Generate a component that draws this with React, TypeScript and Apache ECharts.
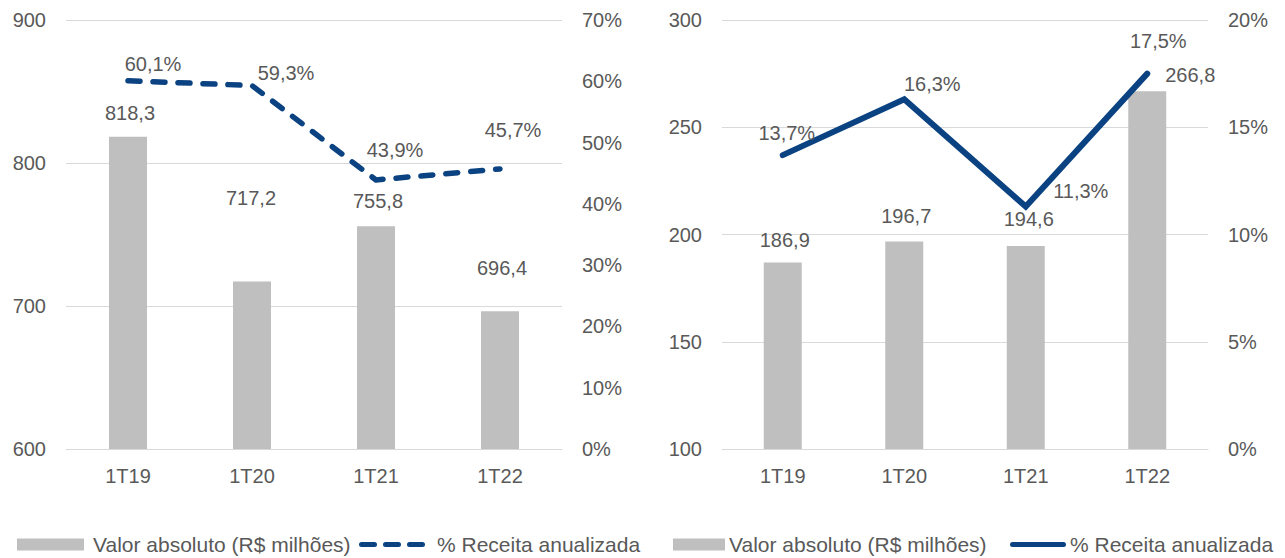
import React, { useEffect, useRef } from "react";
import * as echarts from "echarts";

const categories = ["1T19", "1T20", "1T21", "1T22"];

const leftBarValues = [818.3, 717.2, 755.8, 696.4];
const leftLineValues = [60.1, 59.3, 43.9, 45.7];
const leftValueTicks = [600, 700, 800, 900];
const leftPercentTicks = [0, 10, 20, 30, 40, 50, 60, 70];

const rightBarValues = [186.9, 196.7, 194.6, 266.8];
const rightLineValues = [13.7, 16.3, 11.3, 17.5];
const rightValueTicks = [100, 150, 200, 250, 300];
const rightPercentTicks = [0, 5, 10, 15, 20];

const BAR_NAME = "Valor absoluto (R$ milhões)";
const LINE_NAME = "% Receita anualizada";

// label placement (style, not data)
const leftBarLabelOffsets = [[2, -14], [-1, -73], [2, -15], [2, -33]];
const leftLineLabelOffsets = [[25, -6], [34, -2], [19, -19], [13, -28]];
const rightBarLabelOffsets = [[2, -13], [2, -16], [3, -17], [43, -6]];
const rightLineLabelOffsets = [[4, -12], [28, -5], [55, -5], [11, -22]];

const FONT = "'Liberation Sans', Arial, sans-serif";
const TEXT = "#595959";
const BAR_COLOR = "#BFBFBF";
const LINE_COLOR = "#0B4382";
const GRID_COLOR = "#D9D9D9";

const fmt = (v: number) => v.toFixed(1).replace(".", ",");

const pill = (a: number, b: number, h: number) => {
  const r = h / 2;
  return `M${a + r} 0 L${b - r} 0 A${r} ${r} 0 0 1 ${b - r} ${h} L${a + r} ${h} A${r} ${r} 0 0 1 ${a + r} 0 Z`;
};
const DASHED_ICON = "path://" + pill(0, 18, 5) + " " + pill(24, 42, 5) + " " + pill(48, 66, 5);
const SOLID_ICON = "path://" + pill(0, 56, 5);

interface ChartCfg {
  barValues: number[];
  lineValues: number[];
  valueTicks: number[];
  percentTicks: number[];
  barOffsets: number[][];
  lineOffsets: number[][];
  dashed: boolean;
  grid: { left: number; right: number };
  legendA: { left: number; itemWidth: number; pad: number };
  legendB: { left: number; itemWidth: number; pad: number; icon: string };
}

function buildOption(c: ChartCfg): any {
  const vMin = c.valueTicks[0];
  const vMax = c.valueTicks[c.valueTicks.length - 1];
  const vInt = c.valueTicks[1] - c.valueTicks[0];
  const pMin = c.percentTicks[0];
  const pMax = c.percentTicks[c.percentTicks.length - 1];
  const pInt = c.percentTicks[1] - c.percentTicks[0];
  const labelBase = { color: TEXT, fontSize: 20, fontFamily: FONT };
  return {
    animation: false,
    backgroundColor: "transparent",
    textStyle: { fontFamily: FONT },
    grid: { left: c.grid.left, right: c.grid.right, top: 20, bottom: 109, containLabel: false },
    legend: [
      {
        data: [{ name: BAR_NAME, icon: "rect" }],
        left: c.legendA.left,
        top: 534,
        padding: 0,
        itemWidth: c.legendA.itemWidth,
        itemHeight: 12,
        selectedMode: false,
        textStyle: { color: TEXT, fontSize: 21, fontFamily: FONT, padding: [0, 0, 0, c.legendA.pad] },
      },
      {
        data: [{ name: LINE_NAME, icon: c.legendB.icon }],
        left: c.legendB.left,
        top: 534,
        padding: 0,
        itemWidth: c.legendB.itemWidth,
        itemHeight: 5,
        selectedMode: false,
        textStyle: { color: TEXT, fontSize: 21, fontFamily: FONT, padding: [0, 0, 0, c.legendB.pad] },
      },
    ],
    xAxis: {
      type: "category",
      data: categories,
      axisLine: { show: true, lineStyle: { color: GRID_COLOR, width: 1 } },
      axisTick: { show: false },
      axisLabel: { ...labelBase, margin: 17 },
    },
    yAxis: [
      {
        type: "value",
        min: vMin,
        max: vMax,
        interval: vInt,
        axisLine: { show: false },
        axisTick: { show: false },
        splitLine: { show: true, lineStyle: { color: GRID_COLOR, width: 1 } },
        axisLabel: { ...labelBase, margin: 20 },
      },
      {
        type: "value",
        min: pMin,
        max: pMax,
        interval: pInt,
        axisLine: { show: false },
        axisTick: { show: false },
        splitLine: { show: false },
        axisLabel: { ...labelBase, margin: 20, formatter: "{value}%" },
      },
    ],
    series: [
      {
        name: BAR_NAME,
        type: "bar",
        yAxisIndex: 0,
        barWidth: 38,
        itemStyle: { color: BAR_COLOR },
        data: c.barValues.map((v, i) => ({
          value: v,
          label: { offset: c.barOffsets[i] },
        })),
        label: {
          show: true,
          position: "top",
          distance: 0,
          ...labelBase,
          formatter: (p: any) => fmt(p.value),
        },
        z: 2,
      },
      {
        name: LINE_NAME,
        type: "line",
        yAxisIndex: 1,
        symbol: "circle",
        symbolSize: 1,
        showSymbol: true,
        lineStyle: c.dashed
          ? { color: LINE_COLOR, width: 5.5, type: [12, 13], cap: "round", join: "round" }
          : { color: LINE_COLOR, width: 6, cap: "round", join: "miter" },
        itemStyle: { color: LINE_COLOR },
        data: c.lineValues.map((v, i) => ({
          value: v,
          label: { offset: c.lineOffsets[i] },
        })),
        label: {
          show: true,
          position: "top",
          distance: 0,
          ...labelBase,
          formatter: (p: any) => fmt(p.value) + "%",
        },
        z: 3,
      },
    ],
  };
}

const leftCfg: ChartCfg = {
  barValues: leftBarValues,
  lineValues: leftLineValues,
  valueTicks: leftValueTicks,
  percentTicks: leftPercentTicks,
  barOffsets: leftBarLabelOffsets,
  lineOffsets: leftLineLabelOffsets,
  dashed: true,
  grid: { left: 66, right: 98 },
  legendA: { left: 17, itemWidth: 67, pad: 4 },
  legendB: { left: 359, itemWidth: 66, pad: 7, icon: DASHED_ICON },
};

const rightCfg: ChartCfg = {
  barValues: rightBarValues,
  lineValues: rightLineValues,
  valueTicks: rightValueTicks,
  percentTicks: rightPercentTicks,
  barOffsets: rightBarLabelOffsets,
  lineOffsets: rightLineLabelOffsets,
  dashed: false,
  grid: { left: 80, right: 77 },
  legendA: { left: 31, itemWidth: 52, pad: -1 },
  legendB: { left: 368, itemWidth: 56, pad: -1, icon: SOLID_ICON },
};

function Chart({ cfg, left, width }: { cfg: ChartCfg; left: number; width: number }) {
  const ref = useRef<HTMLDivElement>(null);
  useEffect(() => {
    if (!ref.current) return;
    const chart = echarts.init(ref.current, undefined, { renderer: "svg" });
    chart.setOption(buildOption(cfg));
    return () => chart.dispose();
  }, [cfg]);
  return (
    <div
      ref={ref}
      style={{ position: "absolute", left, top: 0, width, height: 558 }}
    />
  );
}

export default function App() {
  return (
    <div
      style={{
        position: "fixed",
        left: 0,
        top: 0,
        width: 1285,
        height: 558,
        background: "#ffffff",
        overflow: "hidden",
      }}
    >
      <Chart cfg={leftCfg} left={0} width={660} />
      <Chart cfg={rightCfg} left={642} width={643} />
    </div>
  );
}
